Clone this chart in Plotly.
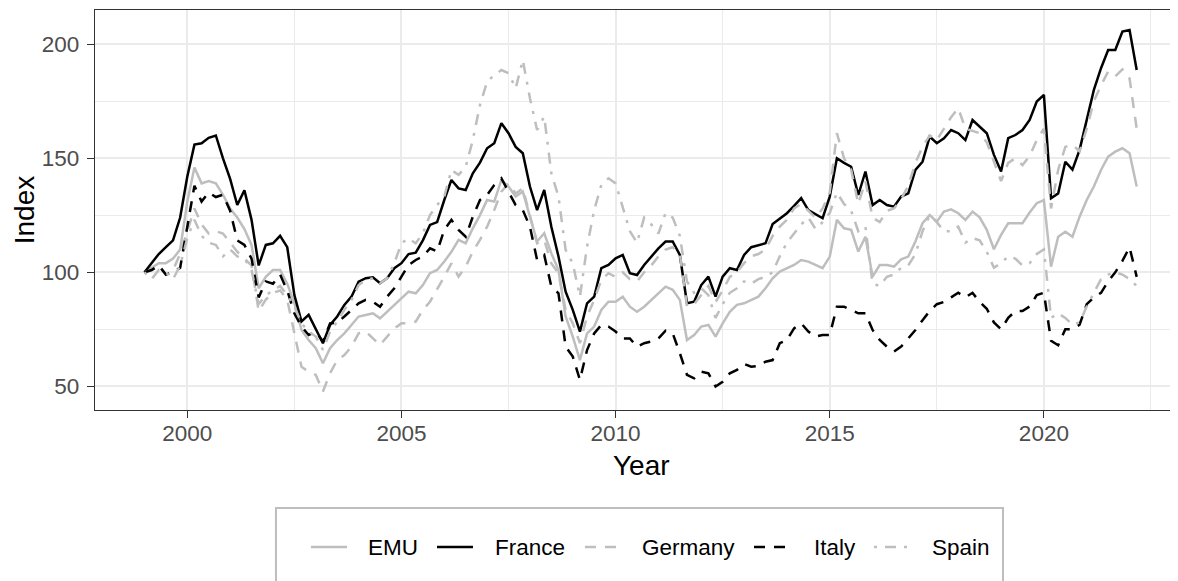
import plotly.graph_objects as go

# bimonthly observations, Jan 1999 .. Mar 2022
years = [1999 + i / 6 for i in range(140)]

emu = [100, 102, 104, 104, 106, 110,
       131, 146, 139, 140, 139, 134,
       128, 124, 119, 112, 93, 98,
       101, 101, 95, 86.4, 74.7, 70.3,
       66.7, 60.1, 66.7, 70.3, 73.2, 76.9,
       80.6, 81.3, 82, 79.8, 82.7, 85.7,
       88.6, 91.5, 90.8, 94.4, 99.6, 101,
       104.7, 109, 114.2, 112.7, 119.3, 125.1,
       131.7, 131, 140.5, 137.6, 133.2, 135.4,
       124.4, 113.5, 117.1, 108.3, 101, 80.6,
       71.8, 61.5, 73.2, 76.2, 83.5, 87.1,
       87.1, 89.3, 84.9, 82.7, 84.9, 87.9,
       90.8, 93.7, 92.3, 87.9, 70.3, 72.5,
       76.2, 76.9, 71.8, 77.6, 82.7, 85.7,
       86.4, 87.9, 89.3, 93, 97.4, 100.3,
       101.8, 103.2, 105.4, 104.7, 103.2, 101.8,
       106.9, 123, 119.3, 118.6, 109.1, 115.6,
       98.1, 103.2, 103.2, 102.5, 105.7, 106.9,
       113.5, 121.5, 125.1, 122.2, 126.6, 127.6,
       125.9, 123, 126.6, 124.1, 118.6, 110.1,
       116.4, 121.5, 121.5, 121.5, 126.2, 130.3,
       131.7, 102.5, 115.6, 117.8, 115.6, 124.4,
       131.7, 137.6, 144.9, 150.7, 152.9, 154.4,
       152.2, 137.6]

france = [100, 104, 108, 111, 114, 124,
          142, 156, 156.6, 159, 160, 150,
          141, 129.5, 136, 123, 103, 112,
          112.7, 116, 111, 90, 78.4, 81.3,
          75.4, 68.9, 76.9, 80.6, 85.7, 89.3,
          95.9, 97.4, 97.8, 95.2, 97.4, 101.8,
          104, 108, 108.6, 114, 120.8, 122,
          131.7, 140.5, 136.8, 136.1, 143.4, 148.1,
          154.4, 156.6, 165.4, 161, 155, 152.2,
          137.6, 127.3, 136.1, 120, 106.9, 91.5,
          83.5, 74, 86.4, 89.3, 101.8, 103.2,
          106.1, 107.6, 99.6, 98.8, 103.2, 106.9,
          110.5, 113.5, 113.5, 107.6, 86.4, 87.1,
          94.4, 98.1, 89.3, 98.1, 101.8, 101,
          107.6, 111, 112, 112.7, 121.2, 123.7,
          125.9, 129.1, 132.5, 127.3, 125.5, 123.7,
          133.2, 150, 148, 146.3, 133.9, 144.2,
          129.5, 131.7, 129.5, 128.8, 133.2, 134.6,
          144.9, 148.5, 159.5, 156.6, 158.8, 162.4,
          161, 158, 166.8, 163.9, 161, 151.5,
          144.2, 158.8, 160.2, 162.4, 166.8, 174.9,
          177.8, 132.5, 134.6, 148.5, 145, 153.7,
          167.5, 180, 189.5, 197.5, 197.5, 205.6,
          206.3, 188.7]

germany = [100, 101, 103, 99, 101, 108,
           118, 128, 121, 117, 118, 117,
           113, 109, 106, 103, 83, 88,
           91, 92, 88, 74, 58.6, 56.4,
           55, 47.7, 55.7, 61.5, 63.7, 67.4,
           73.2, 74, 71, 68.1, 71.8, 75.4,
           77.6, 77.6, 78.4, 83.5, 87.1, 92.3,
           98.1, 103.9, 98.1, 102.5, 109.1, 114.2,
           120, 127.3, 135.4, 139, 134.6, 136.8,
           124.4, 112.7, 114.2, 103.9, 99.6, 83.5,
           77.6, 68.9, 80.6, 87.9, 96.6, 99.6,
           98, 100, 97, 96, 100, 103,
           107, 110, 111, 108, 85, 86,
           90, 94, 87, 92, 98, 100,
           104, 107, 108, 110, 116, 120,
           123, 128, 130, 127, 124, 128,
           135, 161, 150, 145, 130, 140,
           124, 122, 127, 128, 132, 138,
           148, 155, 160, 158, 163, 168,
           172, 163, 162, 161, 157, 148,
           140, 148, 150, 147, 151, 158,
           163, 128, 145, 155, 156, 153,
           163, 175, 182, 188, 186, 189,
           185, 163]

italy = [100, 101, 103, 99, 100, 102,
         120, 138, 131, 135, 133, 134,
         127, 114, 112, 106, 89, 96,
         95, 99, 92, 82, 76.2, 72.5,
         74, 69.6, 77.6, 77.9, 80.6, 83.5,
         86.4, 87.9, 87.1, 84.9, 89.3, 93,
         98.1, 103.2, 105.4, 106.9, 110.5, 109.1,
         118.6, 123, 118.6, 115.6, 124.4, 131.7,
         133.9, 138.3, 141.2, 135.4, 129.5, 127.3,
         120, 105.4, 107.6, 93.7, 90.8, 67.4,
         63, 52.8, 65.9, 73.2, 76.9, 76.2,
         74, 71, 71, 67.4, 68.9, 69.6,
         71, 74.4, 73.2, 64.5, 55, 53.5,
         56.4, 55.7, 49.9, 52, 55.7, 57.2,
         59.8, 58.6, 58.9, 60.8, 61.5, 68.9,
         70.3, 75.4, 77.6, 74, 71.8, 72.5,
         72.5, 84.9, 84.9, 83.5, 82, 82,
         74.7, 70.3, 67.4, 65.2, 67.4, 71,
         74.7, 79, 83, 86, 87, 89,
         91, 89, 91, 87, 84, 78,
         75, 80, 83, 83, 85, 90,
         91, 70, 68, 75, 75, 77,
         86, 89, 91, 96, 100, 105,
         111, 98]

spain = [100, 97, 101, 100, 97, 103,
         115, 123, 116, 113, 112, 107,
         110, 107, 106, 101, 86, 90,
         92, 94, 90, 85, 77.6, 74,
         71.8, 66, 74, 78.4, 83.5, 87.9,
         94.4, 96.6, 97.4, 95.2, 97.4, 104,
         112.7, 114.9, 112.7, 117.1, 125.1, 129.5,
         133.2, 144.9, 142.7, 146.3, 158, 173.4,
         183.6, 186.5, 188.7, 187.3, 180.7, 193.1,
         176.3, 162.4, 168.3, 143.4, 133.2, 109.8,
         103.9, 89.3, 111.3, 127.3, 138.3, 141.2,
         139, 128, 118, 113, 124, 121,
         117, 126, 124, 116, 96, 91,
         93, 90, 80, 86, 91, 93,
         96, 95, 97, 98, 100, 107,
         113, 117, 121, 124, 119, 122,
         126, 135, 130, 127, 118, 120,
         95, 94, 98, 99, 102, 103,
         108, 118, 125, 122, 118, 118,
         120, 113, 115, 114, 109, 102,
         104, 107, 106, 103, 104, 108,
         110, 80, 82, 80, 77, 78,
         85, 91, 97, 99, 100, 99,
         97, 94]

grey = "#BEBEBE"
dashed = "11px,9px"
dotdash = "3px,8px,11px,8px"
series = [
    ("EMU", emu, grey, "solid"),
    ("France", france, "black", "solid"),
    ("Germany", germany, grey, dashed),
    ("Italy", italy, "black", dashed),
    ("Spain", spain, grey, dotdash),
]

fig = go.Figure()
for name, vals, col, dash in series:
    fig.add_trace(go.Scatter(x=years, y=vals, name=name, mode="lines",
                             line=dict(color=col, width=2.5, dash=dash),
                             showlegend=False))

font = "Liberation Sans, Arial, sans-serif"
# page has an 8px body margin, so the figure is 8px smaller than the window
fig.update_layout(
    width=1170, height=573,
    margin=dict(l=87, r=0, t=2, b=171),
    plot_bgcolor="white", paper_bgcolor="white",
    font=dict(family=font, size=22.5, color="black"),
    showlegend=False,
)

# legend drawn by hand (ggplot style, bottom, boxed, cut off at the bottom)
fig.add_shape(type="rect", xref="paper", yref="paper",
              x0=0.1671, x1=0.8384, y0=-0.55, y1=-0.245,
              line=dict(color="#BEBEBE", width=2), fillcolor="white")
key_y = -0.3425
key_x = [(0.1994, 0.2327, 0.2502), (0.3158, 0.3490, 0.3675),
         (0.4524, 0.4857, 0.5032), (0.6085, 0.6418, 0.6620),
         (0.7193, 0.7525, 0.7710)]
for (name, vals, col, dash), (k0, k1, tx) in zip(series, key_x):
    fig.add_shape(type="line", xref="paper", yref="paper",
                  x0=k0, x1=k1, y0=key_y, y1=key_y,
                  line=dict(color=col, width=2.5, dash=dash))
    fig.add_annotation(text=name, xref="paper", yref="paper", x=tx, y=key_y,
                       xanchor="left", yanchor="middle", showarrow=False,
                       font=dict(size=22.5, color="black"))

fig.add_annotation(text="Year", xref="paper", yref="paper", x=0.5042, y=-0.1375,
                   xanchor="center", yanchor="middle", showarrow=False,
                   font=dict(size=28, color="black"))
fig.add_annotation(text="Index", xref="paper", yref="paper", x=-0.0653, y=0.5,
                   xanchor="center", yanchor="middle", showarrow=False,
                   textangle=-90, font=dict(size=28, color="black"))

fig.update_xaxes(
    range=[1997.845, 2023.131],
    tickvals=[2000, 2005, 2010, 2015, 2020],
    ticks="outside", ticklen=7, tickcolor="#333333", tickwidth=1.3,
    tickfont=dict(size=22.5, color="#4D4D4D"),
    ticklabelstandoff=-4,
    showgrid=True, gridcolor="#EBEBEB", gridwidth=2.2,
    minor=dict(tickvals=[1997.5, 2002.5, 2007.5, 2012.5, 2017.5, 2022.5],
               showgrid=True, gridcolor="#EBEBEB", gridwidth=1.2, ticks=""),
    showline=True, linecolor="#333333", linewidth=1.3, mirror=True,
    zeroline=False,
)
fig.update_yaxes(
    range=[39.6, 215.04],
    tickvals=[50, 100, 150, 200],
    ticks="outside", ticklen=7, tickcolor="#333333", tickwidth=1.3,
    tickfont=dict(size=22.5, color="#4D4D4D"),
    ticklabelstandoff=3,
    showgrid=True, gridcolor="#EBEBEB", gridwidth=2.2,
    minor=dict(tickvals=[75, 125, 175], showgrid=True,
               gridcolor="#EBEBEB", gridwidth=1.2, ticks=""),
    showline=True, linecolor="#333333", linewidth=1.3, mirror=False,
    zeroline=False,
)

fig.write_html("out.html")
